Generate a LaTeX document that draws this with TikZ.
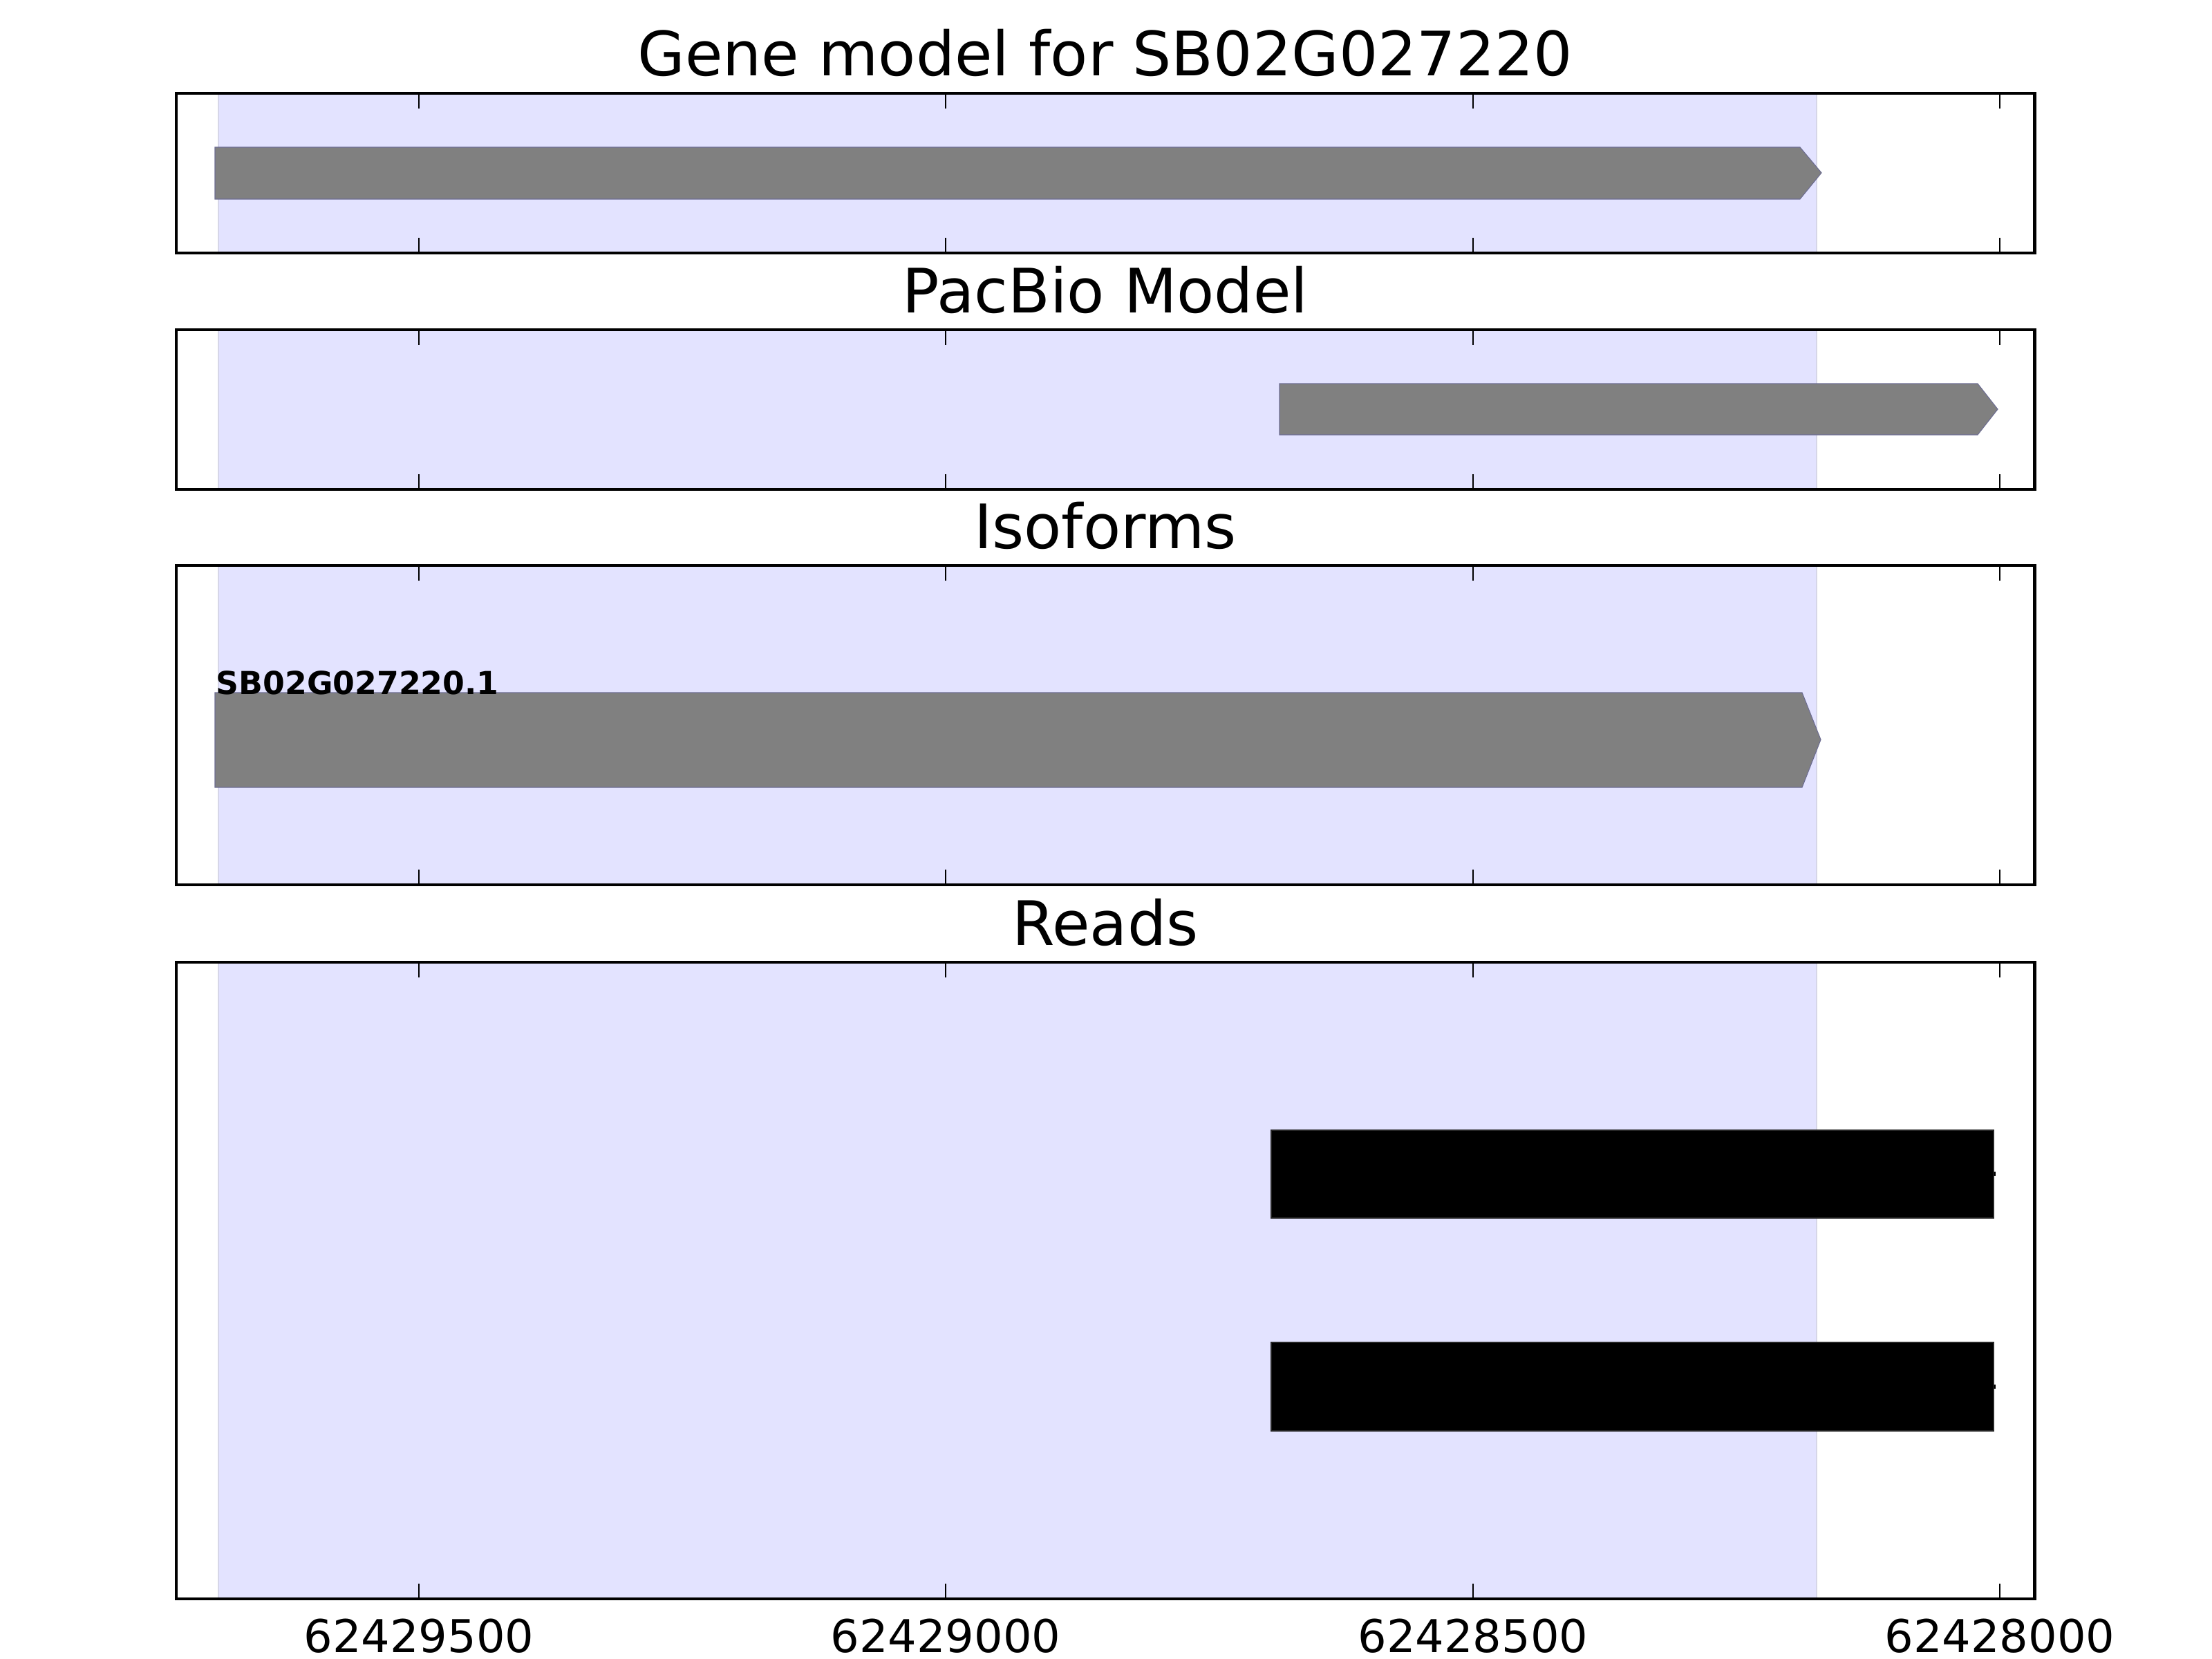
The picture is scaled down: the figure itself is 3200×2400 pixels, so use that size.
\documentclass[tikz,border=0pt]{standalone}
\usepackage{fontspec}
\setmainfont{DejaVu Sans}
\definecolor{spanblue}{RGB}{227,227,255}
\definecolor{spanedge}{RGB}{214,214,232}
\definecolor{modelgray}{RGB}{128,128,128}

\begin{document}
\begin{tikzpicture}[x=0.01cm, y=-0.01cm,
  frame/.style={draw=black, line width=1.4pt},
  span/.style={fill=spanblue, draw=spanedge, line width=0.8pt},
  tickmark/.style={draw=black, line width=0.8pt},
  exon/.style={fill=modelgray, draw=modelgray!85!blue, line width=0.3pt},
  read/.style={fill=black, draw=black!85, line width=0.5pt},
  paneltitle/.style={anchor=base, inner sep=0pt, font=\fontsize{25.2}{30}\selectfont},
  ticklabel/.style={anchor=base, inner sep=0pt, font=\fontsize{18.6}{22}\selectfont}]
\useasboundingbox (0,0) rectangle (3200,2400);

% shaded gene region and ticks in every panel
\foreach \top/\bot in {135/366,477/708,818/1280,1392/2313}{
  \path[span] (316,\top) rectangle (2628,\bot);
}

% gene model
\path[exon] (311,213) -- (2604,213) -- (2635,250) -- (2604,288) -- (311,288) -- cycle;
% pacbio model
\path[exon] (1851,555) -- (2861,555) -- (2890,592) -- (2861,629) -- (1851,629) -- cycle;
% isoform
\path[exon] (311,1002) -- (2607,1002) -- (2634,1070) -- (2607,1139) -- (311,1139) -- cycle;
\node[anchor=base west, inner sep=0pt, font=\fontsize{13}{15}\selectfont\bfseries] (isolabel) at (312,1004) {SB02G027220.1};
% reads
\path[read] (1839,1635) rectangle (2884,1762);
\fill (2884,1695) rectangle (2887,1701);
\path[read] (1839,1942) rectangle (2884,2070);
\fill (2884,2003) rectangle (2887,2009);

\foreach \top/\bot in {135/366,477/708,818/1280,1392/2313}{
  \foreach \tx in {606,1368,2131,2893}{
    \draw[tickmark] (\tx,\top) -- ++(0,22);
    \draw[tickmark] (\tx,\bot) -- ++(0,-22);
  }
  \draw[frame] (255,\top) rectangle (2943,\bot);
}

% titles
\node[paneltitle] (genetitle) at (1599,110) {Gene model for SB02G027220};
\node[paneltitle] (pacbiotitle) at (1599,452) {PacBio Model};
\node[paneltitle] (isotitle) at (1599,793) {Isoforms};
\node[paneltitle] (readtitle) at (1599,1367) {Reads};

% x axis labels
\node[ticklabel] (tick1) at (606,2390) {62429500};
\node[ticklabel] (tick2) at (1368,2390) {62429000};
\node[ticklabel] (tick3) at (2131,2390) {62428500};
\node[ticklabel] (tick4) at (2893,2390) {62428000};
\end{tikzpicture}
\end{document}
